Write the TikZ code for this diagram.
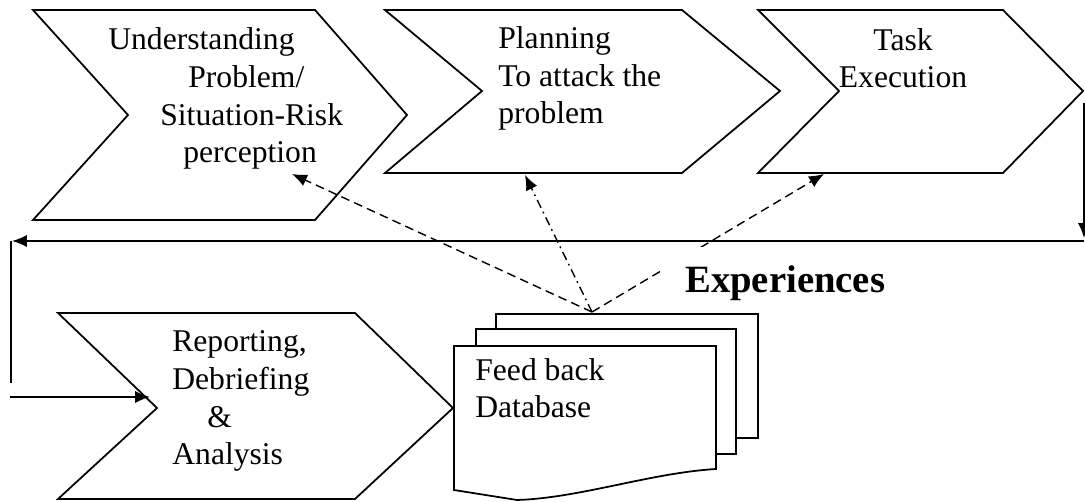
\documentclass[tikz,border=0pt]{standalone}
\usepackage{fontspec}
\setmainfont{Liberation Serif}
\usetikzlibrary{arrows,arrows.meta}
\tikzset{
  >={Latex[length=8.5pt,width=7pt]},
  chevron/.style = {draw, line width=1pt, line join=miter},
  stage text/.style = {anchor=base west, align=left, inner sep=0,
                  font=\fontsize{18}{21.5}\selectfont},
  flow/.style = {line width=1pt, ->},
  link/.style = {line width=0.8pt, ->, dash pattern=on 5pt off 3pt},
  page/.style = {draw, fill=white, line width=1pt},
}
\begin{document}
\begin{tikzpicture}[x=0.02cm, y=-0.02cm]
\useasboundingbox (0,0) rectangle (1085,502);
% stages
\draw[chevron] (33,10) -- (315,10) -- (407,115) -- (315,220) -- (33,220) -- (128,115) -- cycle;
\draw[chevron] (385,10) -- (682,10) -- (780,91) -- (682,173) -- (385,173) -- (482,91) -- cycle;
\draw[chevron] (758,10) -- (1003,10) -- (1083,91) -- (1003,173) -- (758,173) -- (839,91) -- cycle;
\draw[chevron] (58,313) -- (355,313) -- (453,408) -- (355,499) -- (58,499) -- (157,408) -- cycle;
% base anchor sits on the last line
\node[stage text] (und) at (108,163) {Understanding\\\hspace*{1.6cm}Problem/\\\hspace*{1.04cm}Situation-Risk\\\hspace*{1.5cm}perception};
\node[stage text] (plan) at (498,124) {Planning\\To attack the\\problem};
\node[stage text, align=center, anchor=base] (task) at (903,88) {Task\\Execution};
\node[stage text] (rep) at (172,465) {Reporting,\\Debriefing\\\hspace*{0.7cm}\&\\Analysis};
% loop back
\coordinate (r0) at (1084,103);
\coordinate (r1) at (1084,238);
\coordinate (b0) at (1084,241);
\coordinate (b1) at (12,241);
\coordinate (l0) at (11,241);
\coordinate (l1) at (11,383);
\coordinate (f0) at (10,397);
\coordinate (f1) at (150,397);
\draw[flow] (r0) -- (r1);
\draw[flow] (b0) -- (b1);
\draw[line width=1pt] (l0) -- (l1);
\draw[flow] (f0) -- (f1);
% experiences
\coordinate (db) at (592,312);
\coordinate (p1) at (292,174);
\coordinate (p2) at (525,175);
\coordinate (p3) at (824,174);
\draw[link] (db) -- (p1);
\draw[link, dash pattern=on 5pt off 2.5pt on 1pt off 2.5pt] (db) -- (p2);
\draw[link] (db) -- (p3);
\node[anchor=base west, fill=white, inner xsep=0.5cm, inner ysep=0.38cm,
      font=\fontsize{22}{26}\selectfont\bfseries] (exp) at (660,293) {Experiences};
% database
\draw[page] (496,314) rectangle (758,438);
\draw[page] (476,329) rectangle (736,454);
\draw[page] (454,346) -- (716,346) -- (716,469) .. controls (650,473) and (580,498) .. (517,500) -- (454,490) -- cycle;
\node[stage text] (fb) at (475,418) {Feed back\\Database};
\end{tikzpicture}
\end{document}
